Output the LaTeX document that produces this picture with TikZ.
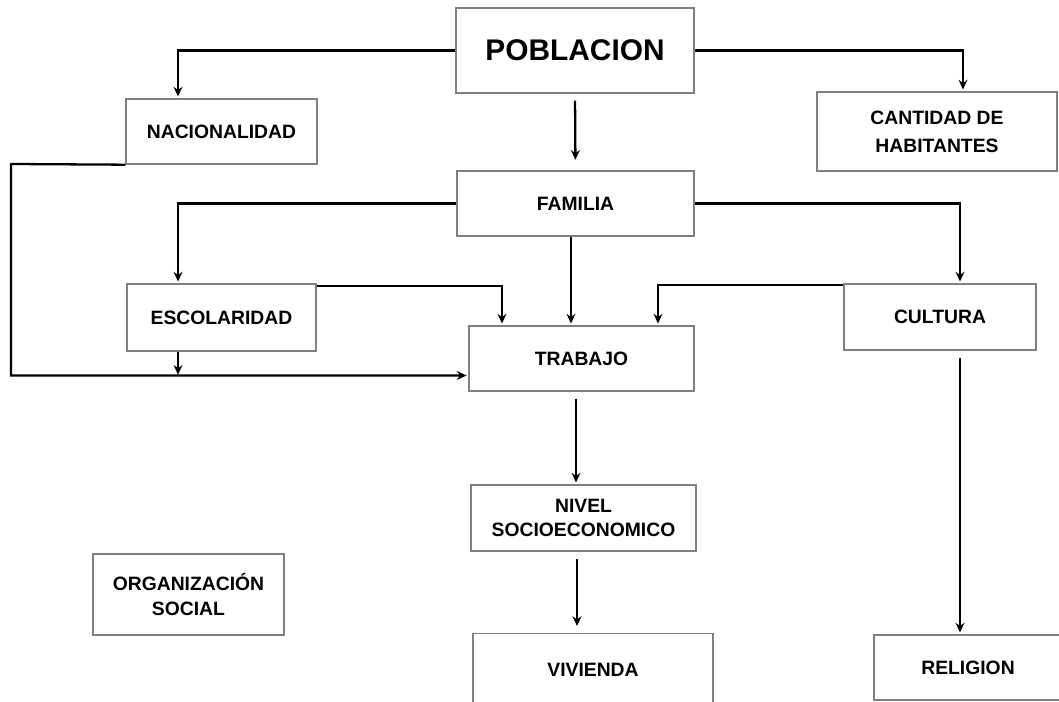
\documentclass[tikz,border=0pt]{standalone}
\usepackage{fontspec}
\setmainfont{Liberation Sans}
\usetikzlibrary{arrows.meta}

\begin{document}
\begin{tikzpicture}[>={Stealth[length=5.5pt,width=5pt]}, x=0.02cm, y=-0.02cm,
    caja/.style={draw=gray, line width=0.8pt, fill=white, align=center, inner sep=0pt,
        font=\bfseries\fontsize{11}{14}\selectfont},
    flecha/.style={->, line width=1.3pt, shorten >=1pt}]
\useasboundingbox (0,0) rectangle (1059,702);
\clip (0,0) rectangle (1059,702);

\node[caja, minimum width=4.76cm, minimum height=1.70cm, font=\bfseries\fontsize{17}{20}\selectfont] (pob) at (575,50.5) {POBLACION};
\node[caja, minimum width=3.82cm, minimum height=1.30cm] (nac) at (221.5,131.5) {NACIONALIDAD};
\node[caja, minimum width=4.80cm, minimum height=1.58cm, font=\bfseries\fontsize{11}{16}\selectfont] (cant) at (937,131.5) {CANTIDAD DE\\HABITANTES};
\node[caja, minimum width=4.74cm, minimum height=1.30cm] (fam) at (575.5,203.5) {FAMILIA};
\node[caja, minimum width=3.78cm, minimum height=1.34cm] (esc) at (221.5,317.5) {ESCOLARIDAD};
\node[caja, minimum width=3.84cm, minimum height=1.32cm] (cul) at (940,317) {CULTURA};
\node[caja, minimum width=4.50cm, minimum height=1.30cm] (trab) at (581.5,358.5) {TRABAJO};
\node[caja, minimum width=4.50cm, minimum height=1.32cm] (niv) at (583.5,518) {NIVEL\\SOCIOECONOMICO};
\node[caja, minimum width=3.82cm, minimum height=1.62cm] (org) at (188.5,594.5) {ORGANIZACIÓN\\SOCIAL};
\node[caja, minimum width=4.80cm, minimum height=1.45cm] (viv) at (593,670) {VIVIENDA};
\node[caja, minimum width=3.76cm, minimum height=1.30cm] (rel) at (968,667.5) {RELIGION};

\coordinate (esq) at (11,164);

% desde poblacion
\draw[flecha] (pob.west) -| ([xshift=-0.87cm]nac.north);
\draw[flecha] (pob.east) -| ([xshift=0.52cm]cant.north);
\draw[flecha, shorten <=4pt, shorten >=6pt] (pob.south) -- (fam.north);

% desde familia
\draw[flecha] (fam.west) -| ([xshift=-0.87cm]esc.north);
\draw[flecha] (fam.east) -| ([xshift=0.4cm]cul.north);
\draw[flecha] ([xshift=-0.09cm]fam.south) -- ([xshift=-0.09cm]fam.south |- trab.north);

% hacia trabajo
\draw[flecha] ([yshift=-0.06cm]esc.north east) -| ([xshift=-1.59cm]trab.north);
\draw[flecha] ([yshift=-0.04cm]cul.north west) -| ([xshift=1.53cm]trab.north);
\draw[flecha] (nac.south west) -- (esq) |- ([yshift=-0.34cm]trab.west);
\draw[flecha, shorten >=0pt] ([xshift=-0.87cm]esc.south) -- ++(0,-0.46cm);

% hacia abajo
\draw[flecha, shorten <=4pt] ([xshift=-0.11cm]trab.south) -- ([xshift=-0.11cm]trab.south |- niv.north);
\draw[flecha, shorten <=4pt, shorten >=4pt] ([xshift=-0.13cm]niv.south) -- ([xshift=-0.13cm]niv.south |- viv.north);
\draw[flecha, shorten <=4pt] ([xshift=0.4cm]cul.south) -- ([xshift=0.4cm]cul.south |- rel.north);

\end{tikzpicture}
\end{document}
